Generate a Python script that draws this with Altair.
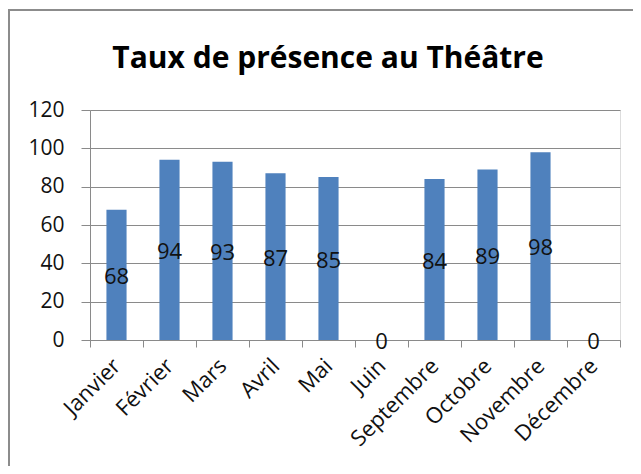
import altair as alt
import pandas as pd

months = ["Janvier", "Février", "Mars", "Avril", "Mai", "Juin",
          "Septembre", "Octobre", "Novembre", "Décembre"]
values = [68, 94, 93, 87, 85, 0, 84, 89, 98, 0]
y_ticks = [0, 20, 40, 60, 80, 100, 120]
title_text = "Taux de présence au Théâtre"

df = pd.DataFrame({"mois": months, "taux": values})

FONT = "Open Sans"
GRAY = "#8a8a8a"

x_scale = alt.Scale(paddingInner=0, paddingOuter=0)
x_axis = alt.Axis(labelAngle=-45, labelAlign="right", labelBaseline="middle",
                  labelFont=FONT, labelFontSize=22, labelColor="#111111",
                  labelPadding=15, tickSize=7, tickColor=GRAY, tickBand="extent",
                  domainColor=GRAY, grid=False, labelOverlap=False)
y_scale = alt.Scale(domain=[0, 120], nice=False)
y_axis = alt.Axis(values=y_ticks, labelFont=FONT, labelFontSize=21,
                  labelColor="#111111", labelPadding=17, tickSize=9,
                  tickColor=GRAY, domainColor=GRAY, gridColor=GRAY,
                  gridOpacity=1, labelOverlap=False)

bars = alt.Chart(df).mark_bar(
    color="#4f81bd", width=alt.RelativeBandSize(0.38)
).encode(
    x=alt.X("mois:N", sort=months, title=None, scale=x_scale, axis=x_axis),
    y=alt.Y("taux:Q", title=None, scale=y_scale, axis=y_axis),
)

labels = alt.Chart(df).transform_calculate(
    mid="datum.taux / 2"
).mark_text(font=FONT, fontSize=22, color="#111111", baseline="middle", dy=2).encode(
    x=alt.X("mois:N", sort=months, title=None, scale=x_scale, axis=x_axis),
    y=alt.Y("mid:Q", title=None, scale=y_scale, axis=y_axis),
    text=alt.Text("taux:Q"),
)

frame = alt.Chart(df).mark_rect(
    fillOpacity=0, stroke="#8c8c8c", strokeWidth=2
).encode(
    x=alt.value(-81), x2=alt.value(900), y=alt.value(-100), y2=alt.value(900)
)

chart = alt.layer(frame, bars, labels).properties(
    width=530, height=230,
    title=alt.TitleParams(title_text, font=FONT, fontSize=30, fontWeight="bold",
                          color="#000000", anchor="middle", frame="group",
                          baseline="alphabetic", offset=-89, dx=-27),
    autosize=alt.AutoSizeParams(type="none"),
    padding={"left": 82, "top": 102, "right": 13, "bottom": 126},
).configure_view(stroke=None).configure(background="white")

chart.save("out.html", embed_options={"renderer": "svg", "actions": False})
